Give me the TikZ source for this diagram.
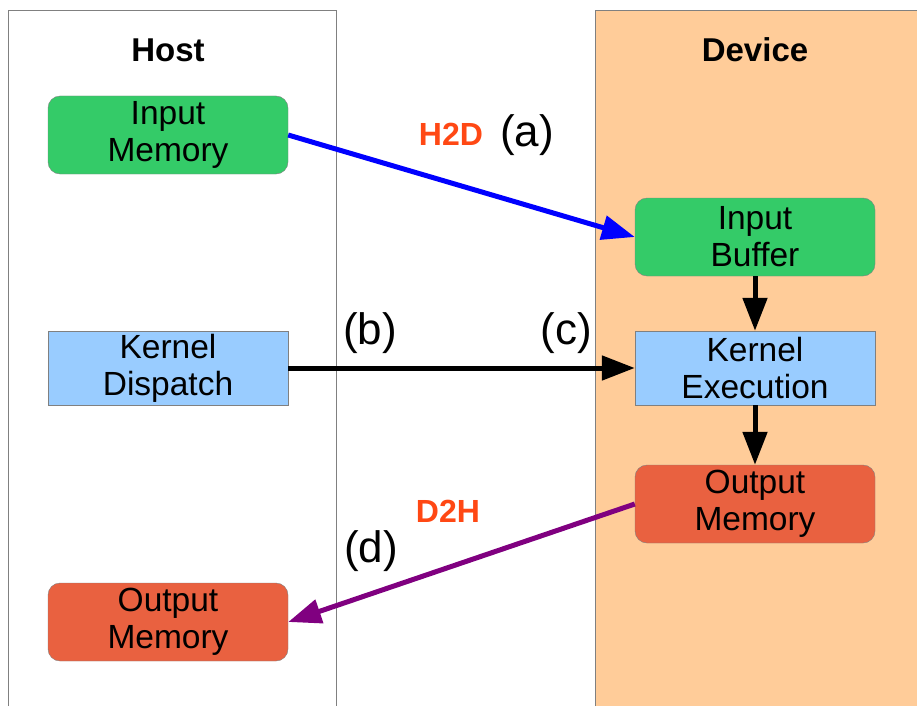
\documentclass[tikz,border=0pt]{standalone}
\usepackage{fontspec}
\setmainfont{Liberation Sans}
\usetikzlibrary{arrows.meta}
\definecolor{boxgreen}{RGB}{52,203,104}
\definecolor{boxblue}{RGB}{153,204,255}
\definecolor{boxred}{RGB}{233,97,64}
\definecolor{devpeach}{RGB}{255,204,153}
\definecolor{xferorange}{RGB}{255,72,20}
\definecolor{d2hpurple}{RGB}{128,0,128}
\begin{document}
\begin{tikzpicture}[x=1pt,y=-1pt,
    box/.style={draw=gray,minimum width=240pt,minimum height=78pt,align=center,
      inner sep=0pt,font=\fontsize{33.5}{37}\selectfont},
    rbox/.style={box,rounded corners=12pt},
    title/.style={inner sep=0pt,font=\fontsize{33}{33}\selectfont\bfseries},
    tag/.style={inner sep=0pt,font=\fontsize{44}{44}\selectfont},
    xfer/.style={inner sep=0pt,text=xferorange,font=\fontsize{32}{32}\selectfont\bfseries},
    flow/.style={line width=5pt,-{Triangle[length=33pt,width=24pt]}}]
  \useasboundingbox (0,0) rectangle (917,706);
  % host and device panels
  \fill[devpeach] (595,10) rectangle (917,706);
  \draw[gray] (595,706) |- (917,10);
  \draw[gray] (8,706) |- (336,10) -- (336,706);
  \node[title] (host) at (168,50) {Host};
  \node[title] (device) at (755,50) {Device};
  % blocks
  \node[rbox,fill=boxgreen] (inmem) at (168,135) {Input\\Memory};
  \node[rbox,fill=boxgreen] (inbuf) at (755,237) {Input\\Buffer};
  \node[box,fill=boxblue,minimum height=74pt] (kdisp) at (168,368) {Kernel\\Dispatch};
  \node[box,fill=boxblue,minimum height=74pt] (kexec) at (755,368) {Kernel\\Execution};
  \node[rbox,fill=boxred] (outdev) at (755,504) {Output\\Memory};
  \node[rbox,fill=boxred] (outhost) at (168,622) {Output\\Memory};
  % transfers
  \draw[flow,blue] (inmem.east) -- (inbuf.west);
  \draw[flow] (kdisp.east) -- (kexec.west);
  \draw[flow,d2hpurple] (outdev.west) -- (outhost.east);
  \draw[flow] (inbuf.south) -- (kexec.north);
  \draw[flow] (kexec.south) -- (outdev.north);
  % labels
  \node[xfer] (h2d) at (451,134) {H2D};
  \node[tag] (taga) at (527,135) {(a)};
  \node[tag] (tagb) at (370,333) {(b)};
  \node[tag] (tagc) at (566,333) {(c)};
  \node[xfer] (d2h) at (448,511) {D2H};
  \node[tag] (tagd) at (371,551) {(d)};
\end{tikzpicture}
\end{document}
